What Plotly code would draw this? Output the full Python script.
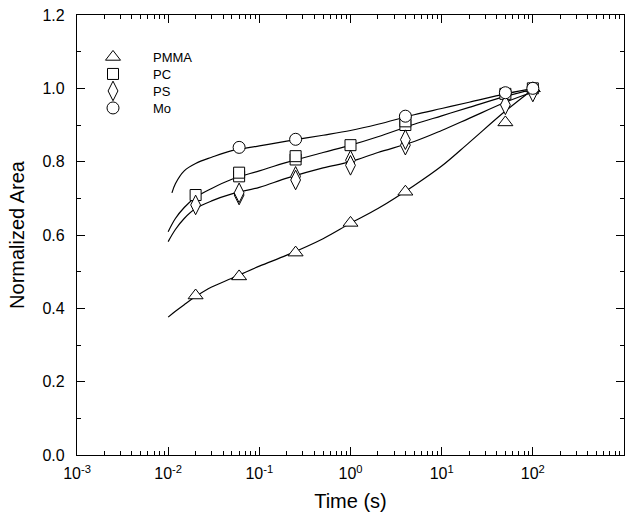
import plotly.graph_objects as go

# ---- measured data ----
pmma_t = [0.02, 0.06, 0.25, 1, 4, 50, 100]
pmma_v = [0.435, 0.487, 0.552, 0.633, 0.718, 0.907, 1.0]

pc_t = [0.02, 0.06, 0.06, 0.25, 0.25, 1, 4, 4, 50, 100]
pc_v = [0.709, 0.760, 0.770, 0.806, 0.815, 0.845, 0.900, 0.910, 0.985, 1.0]

ps_t = [0.02, 0.06, 0.06, 0.25, 0.25, 1, 1, 4, 4, 50, 100]
ps_v = [0.682, 0.709, 0.715, 0.760, 0.750, 0.804, 0.790, 0.845, 0.860, 0.955, 0.99]

mo_t = [0.06, 0.25, 4, 50, 100]
mo_v = [0.839, 0.861, 0.924, 0.988, 1.0]

# ---- fitted curves ----
fit_t = [0.01, 0.012, 0.015, 0.02, 0.03, 0.05, 0.1, 0.2, 0.5, 1, 2, 5, 10, 20, 50, 100]
fit_pmma = [0.376, 0.392, 0.41, 0.432, 0.458, 0.482, 0.515, 0.545, 0.59, 0.632, 0.672, 0.735, 0.788, 0.852, 0.938, 0.997]
fit_pc = [0.609, 0.645, 0.675, 0.703, 0.727, 0.752, 0.775, 0.798, 0.825, 0.845, 0.868, 0.902, 0.925, 0.948, 0.978, 0.997]
fit_ps = [0.582, 0.615, 0.645, 0.672, 0.693, 0.712, 0.73, 0.755, 0.783, 0.80, 0.825, 0.855, 0.885, 0.918, 0.962, 0.99]
mo_fit_t = [0.011, 0.012, 0.015, 0.02, 0.03, 0.05, 0.1, 0.2, 0.5, 1, 2, 5, 10, 20, 50, 100]
fit_mo = [0.715, 0.74, 0.775, 0.795, 0.812, 0.83, 0.843, 0.856, 0.872, 0.885, 0.902, 0.928, 0.945, 0.962, 0.985, 1.0]

x_tick_vals = [1e-3, 1e-2, 1e-1, 1, 10, 100, 1000]
x_tick_text = ["10<sup>-3</sup>", "10<sup>-2</sup>", "10<sup>-1</sup>", "10<sup>0</sup>",
               "10<sup>1</sup>", "10<sup>2</sup>", "10<sup>3</sup>"]
x_minor_mult = [2, 3, 4, 5, 6, 7, 8, 9]
y_tick_vals = [0.0, 0.2, 0.4, 0.6, 0.8, 1.0, 1.2]
y_tick_text = ["0.0", "0.2", "0.4", "0.6", "0.8", "1.0", "1.2"]
y_minor_vals = [0.1, 0.3, 0.5, 0.7, 0.9, 1.1]

x_minor_vals = [d * m for d in x_tick_vals[:-1] for m in x_minor_mult]

FONT = "Liberation Sans, Arial, sans-serif"

fig = go.Figure()

for t, v in [(fit_t, fit_pmma), (fit_t, fit_pc), (fit_t, fit_ps), (mo_fit_t, fit_mo)]:
    fig.add_trace(go.Scatter(x=t, y=v, mode="lines", line=dict(color="black", width=1.2, shape="spline"),
                             showlegend=False, hoverinfo="skip"))

series = [
    ("PMMA", pmma_t, pmma_v, "triangle-up", 13),
    ("PC", pc_t, pc_v, "square", 11),
    ("PS", ps_t, ps_v, "diamond-tall", 14),
    ("Mo", mo_t, mo_v, "circle", 12),
]
legend_ids = ["legend", "legend2", "legend3", "legend4"]
for (name, t, v, sym, sz), lg in zip(series, legend_ids):
    fig.add_trace(go.Scatter(x=t, y=v, mode="markers", name=name, legend=lg,
                             marker=dict(symbol=sym, size=sz, color="white",
                                         line=dict(color="black", width=1))))

legend_rows_px = [57, 74, 91, 108]
plot_top, plot_h = 15, 440
legends = {}
for lg, py in zip(legend_ids, legend_rows_px):
    legends[lg] = dict(x=-0.0073, y=1 - (py - plot_top) / plot_h, xanchor="left", yanchor="middle",
                       bgcolor="rgba(0,0,0,0)", font=dict(size=13, family=FONT),
                       itemwidth=70, borderwidth=0)

fig.update_layout(
    template="simple_white",
    width=628, height=521,
    margin=dict(l=77, r=4, t=15, b=66),
    paper_bgcolor="white", plot_bgcolor="white",
    font=dict(family=FONT, color="black"),
    showlegend=True,
    **legends,
)
fig.update_xaxes(
    type="log", range=[-3, 3], tickmode="array", tickvals=x_tick_vals, ticktext=x_tick_text,
    ticks="inside", ticklen=8, tickwidth=1.2, tickcolor="black",
    minor=dict(ticks="inside", tickmode="array", tickvals=x_minor_vals, ticklen=4, tickwidth=1.2,
               tickcolor="black", showgrid=False),
    showline=True, linecolor="black", linewidth=1.3, mirror="ticks", showgrid=False, zeroline=False,
    tickfont=dict(size=16, color="black"), ticklabelstandoff=4, automargin=False,
    title=dict(text="Time (s)", font=dict(size=20, color="black"), standoff=12),
)
fig.update_yaxes(
    range=[0, 1.2], tickmode="array", tickvals=y_tick_vals, ticktext=y_tick_text,
    ticks="inside", ticklen=8, tickwidth=1.2, tickcolor="black",
    minor=dict(ticks="inside", tickmode="array", tickvals=y_minor_vals, ticklen=4, tickwidth=1.2,
               tickcolor="black", showgrid=False),
    showline=True, linecolor="black", linewidth=1.3, mirror="ticks", showgrid=False, zeroline=False,
    tickfont=dict(size=16, color="black"), ticklabelstandoff=8, automargin=False,
    title=dict(text="Normalized Area", font=dict(size=20, color="black"), standoff=12),
)

fig.write_html("out.html")
